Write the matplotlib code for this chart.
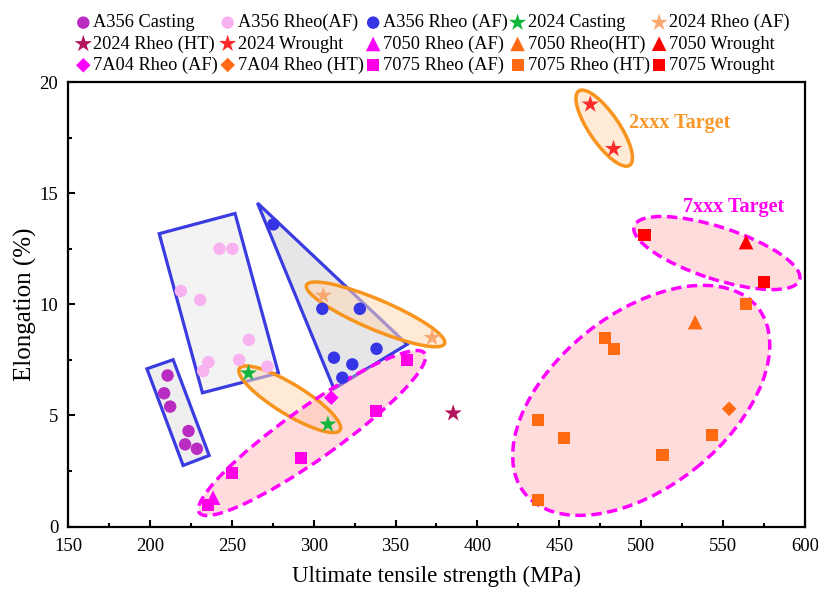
import matplotlib
matplotlib.use("Agg")
import matplotlib.pyplot as plt
from matplotlib.patches import Ellipse, Polygon
from matplotlib.transforms import ScaledTranslation
from matplotlib.ticker import MultipleLocator

plt.rcParams['font.family'] = ['Liberation Serif', 'DejaVu Serif']

# data (UTS in MPa, elongation in %)
a356_cast_x = [210.8, 208.7, 212.4, 223.6, 221.5, 228.7]
a356_cast_y = [6.8, 6.0, 5.4, 4.3, 3.7, 3.5]
a356_rheo_pink_x = [242.5, 250.4, 218.9, 230.7, 260.5, 235.8, 232.5, 254.5, 271.7]
a356_rheo_pink_y = [12.5, 12.5, 10.6, 10.2, 8.4, 7.4, 7.0, 7.5, 7.2]
a356_rheo_blue_x = [275.4, 305.3, 328.2, 338.4, 312.4, 323.6, 317.5]
a356_rheo_blue_y = [13.6, 9.8, 9.8, 8.0, 7.6, 7.3, 6.7]
c2024_cast_x = [260.2, 308.7]
c2024_cast_y = [6.9, 4.6]
c2024_af_x = [305.9, 372.3]
c2024_af_y = [10.4, 8.5]
c2024_ht_x = [385.2]
c2024_ht_y = [5.1]
c2024_wr_x = [468.9, 483.1]
c2024_wr_y = [19.0, 17.0]
c7050_af_x = [238.6]
c7050_af_y = [1.3]
c7050_ht_x = [532.9]
c7050_ht_y = [9.2]
c7050_wr_x = [564.0]
c7050_wr_y = [12.8]
c7a04_af_x = [310.8]
c7a04_af_y = [5.8]
c7a04_ht_x = [553.7]
c7a04_ht_y = [5.3]
c7075_af_x = [235.2, 250.4, 292.5, 337.8, 357.1]
c7075_af_y = [0.95, 2.4, 3.1, 5.2, 7.5]
c7075_ht_x = [563.8, 478.0, 483.1, 437.0, 453.0, 543.1, 513.0, 436.8]
c7075_ht_y = [10.0, 8.5, 8.0, 4.8, 4.0, 4.1, 3.2, 1.2]
c7075_wr_x = [502.0, 575.2]
c7075_wr_y = [13.1, 11.0]

# legend order (row by row as in the figure)
series = [
    ("A356 Casting", a356_cast_x, a356_cast_y, 'o', '#B82CC2', 80),
    ("A356 Rheo(AF)", a356_rheo_pink_x, a356_rheo_pink_y, 'o', '#F8B2F0', 80),
    ("A356 Rheo (AF)", a356_rheo_blue_x, a356_rheo_blue_y, 'o', '#3535E6', 80),
    ("2024 Casting", c2024_cast_x, c2024_cast_y, '*', '#10B53C', 170),
    ("2024 Rheo (AF)", c2024_af_x, c2024_af_y, '*', '#F9A870', 170),
    ("2024 Rheo (HT)", c2024_ht_x, c2024_ht_y, '*', '#B3125C', 170),
    ("2024 Wrought", c2024_wr_x, c2024_wr_y, '*', '#FF2B2B', 170),
    ("7050 Rheo (AF)", c7050_af_x, c7050_af_y, '^', '#FF00FF', 110),
    ("7050 Rheo(HT)", c7050_ht_x, c7050_ht_y, '^', '#FF6A13', 110),
    ("7050 Wrought", c7050_wr_x, c7050_wr_y, '^', '#FF0000', 110),
    ("7A04 Rheo (AF)", c7a04_af_x, c7a04_af_y, 'D', '#FF00FF', 55),
    ("7A04 Rheo (HT)", c7a04_ht_x, c7a04_ht_y, 'D', '#FF6A13', 55),
    ("7075 Rheo (AF)", c7075_af_x, c7075_af_y, 's', '#FF00E6', 75),
    ("7075 Rheo (HT)", c7075_ht_x, c7075_ht_y, 's', '#FF6A13', 75),
    ("7075 Wrought", c7075_wr_x, c7075_wr_y, 's', '#FF0000', 75),
]

fig = plt.figure(figsize=(8.18, 5.91), dpi=100)
ax = fig.add_axes([0.0831, 0.109, 0.901, 0.752])
ax.set_xlim(150, 600)
ax.set_ylim(0, 20)

blue = '#3B3BE2'
# blue boxes around A356 groups
ax.add_patch(Polygon([(198.2, 7.1), (214.2, 7.51), (236.2, 3.2), (220.3, 2.75)],
                     closed=True, fc='#EEEEEE', ec=blue, lw=2.3, zorder=1))
ax.add_patch(Polygon([(205.7, 13.18), (252.0, 14.09), (278.5, 6.91), (232.1, 6.02)],
                     closed=True, fc='#F3F3F3', ec=blue, lw=2.3, zorder=1))
ax.add_patch(Polygon([(265.7, 14.56), (357.1, 8.2), (312.4, 6.2)],
                     closed=True, fc='#E6E6E8', ec=blue, lw=2.3, zorder=1))


def ell(cx, cy, w_px, h_px, ang, fc, ec, ls, alpha):
    # ellipse centred at a data point, size given in pixels
    tr = fig.dpi_scale_trans + ScaledTranslation(cx, cy, ax.transData)
    e = Ellipse((0, 0), w_px / 100, h_px / 100, angle=ang, transform=tr,
                fc=fc, ec='none', alpha=alpha, zorder=2)
    ax.add_patch(e)
    e2 = Ellipse((0, 0), w_px / 100, h_px / 100, angle=ang, transform=tr,
                 fc='none', ec=ec, lw=2.5, ls=ls, zorder=2.5)
    ax.add_patch(e2)


orange = '#F7941D'
mag = '#FF00FF'
ell(285.4, 5.73, 118, 30, -31.5, '#FFD9B5', orange, '-', 0.55)
ell(337.8, 9.55, 150, 30, -23.0, '#FFD9B5', orange, '-', 0.55)
ell(477.4, 17.93, 90, 30, -55.6, '#FFD9B5', orange, '-', 0.55)
ell(299.0, 4.21, 276, 52, 35.3, '#FFB3B3', mag, (0, (3, 1.6)), 0.45)
ell(500.0, 5.68, 298, 174, 38.5, '#FFB3B3', mag, (0, (3, 1.6)), 0.45)
ell(546.2, 12.31, 174, 52, -18.0, '#FFB3B3', mag, (0, (3, 1.6)), 0.45)

handles = []
for name, xs, ys, mk, col, s in series:
    h = ax.scatter(xs, ys, marker=mk, s=s, c=col, edgecolors='none', zorder=4, label=name)
    handles.append(h)

ax.text(492.3, 18.14, "2xxx Target", color='#F7972A', fontsize=14.5, fontweight='bold',
        va='center', ha='left')
ax.text(525.4, 14.36, "7xxx Target", color='#FF00EE', fontsize=14.5, fontweight='bold',
        va='center', ha='left')

ax.xaxis.set_major_locator(MultipleLocator(50))
ax.xaxis.set_minor_locator(MultipleLocator(25))
ax.yaxis.set_major_locator(MultipleLocator(5))
ax.yaxis.set_minor_locator(MultipleLocator(2.5))
ax.tick_params(which='both', direction='in', labelsize=13.5, width=1.5)
ax.tick_params(which='major', length=5)
ax.tick_params(which='minor', length=3)
ax.tick_params(axis='x', which='major', pad=8)
ax.tick_params(axis='y', which='major', pad=7)
for sp in ax.spines.values():
    sp.set_linewidth(1.6)

ax.set_xlabel("Ultimate tensile strength (MPa)", fontsize=16.5, labelpad=8)
ax.set_ylabel("Elongation (%)", fontsize=18, labelpad=2)

order = [r * 5 + c for c in range(5) for r in range(3)]
ax.legend([handles[i] for i in order], [series[i][0] for i in order],
          ncol=5, loc='upper left', bbox_to_anchor=(0.094, 0.976),
          bbox_transform=fig.transFigure, frameon=False, fontsize=13.2,
          handlelength=0.7, handletextpad=0.2, columnspacing=0.17,
          labelspacing=0.22, borderpad=0, borderaxespad=0)

fig.savefig("out.png", dpi=100)
